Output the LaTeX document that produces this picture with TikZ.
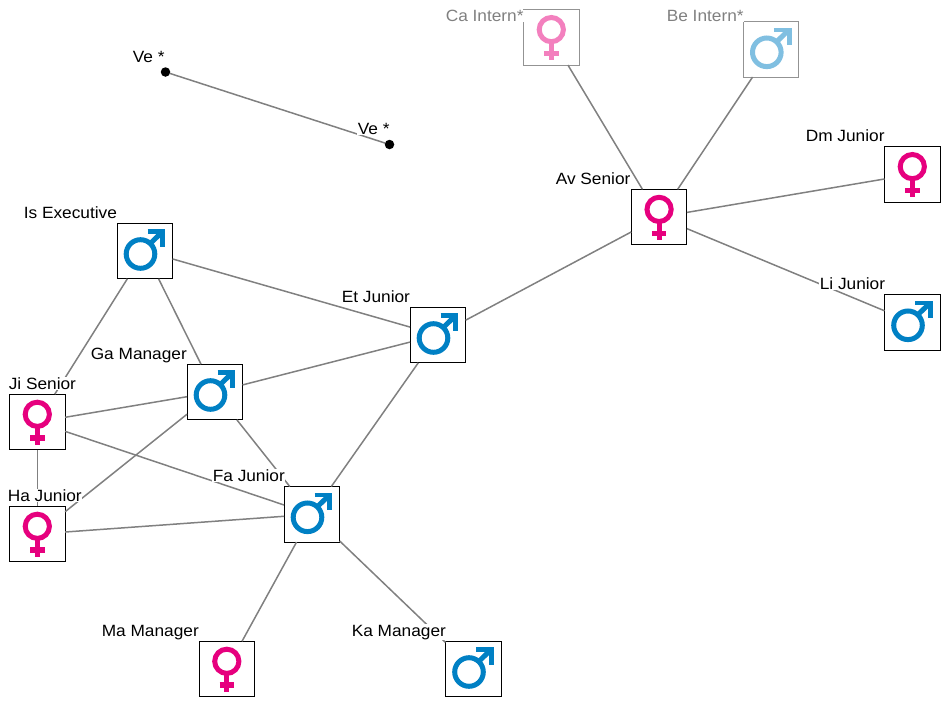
\documentclass[tikz,border=0pt]{standalone}
\usepackage{fontspec}
\setmainfont[FakeStretch=1.06]{Liberation Sans}
\definecolor{pinkc}{HTML}{E6007E}
\definecolor{bluec}{HTML}{0080C4}
\definecolor{pinkf}{HTML}{F380BE}
\definecolor{bluef}{HTML}{80BFE1}
\definecolor{edgec}{HTML}{808080}
\tikzset{
  x=1pt,y=-1pt,
  person/.style={draw=black,line width=1pt,fill=white,minimum size=55.6pt,inner sep=0pt,outer sep=0pt},
  faded/.style={person,draw=edgec!85},
  link/.style={draw=edgec,line width=1.5pt},
  tag/.style={anchor=base west,font=\fontsize{16.3}{19}\selectfont,text=black,inner sep=0.6pt,fill=white},
  tagf/.style={tag,text=edgec},
  dot/.style={circle,fill=black,minimum size=9.5pt,inner sep=0pt,outer sep=0pt},
  pics/femalesym/.style={code={
    \draw[#1,line width=5pt] (0,-7.7) circle[radius=12.1];
    \draw[#1,line width=5pt] (0,5) -- (0,23);
    \draw[#1,line width=5.2pt] (-7.2,16) -- (7.2,16);
  }},
  pics/malesym/.style={code={
    \draw[#1,line width=5pt] (-4.3,3) circle[radius=14.3];
    \draw[#1,line width=5pt] (5,-7) -- (17.5,-19.2);
    \draw[#1,line width=4.8pt,miter limit=10] (2.7,-19.4) -- (18,-19.4) -- (18,-4);
  }}
}
\begin{document}
\begin{tikzpicture}
\useasboundingbox (0,0) rectangle (950,707);
\node[faded] (Ca) at (551.3,37.3) {};
\node[faded] (Be) at (771.1,49.3) {};
\node[person] (Av) at (659.1,217.1) {};
\node[person] (Dm) at (912.3,174.3) {};
\node[person] (Li) at (912.3,322.3) {};
\node[person] (Is) at (144.8,251) {};
\node[person] (Et) at (437.8,335) {};
\node[person] (Ga) at (214.8,392) {};
\node[person] (Ji) at (37.3,422) {};
\node[person] (Ha) at (37.3,534) {};
\node[person] (Fa) at (311.8,514.3) {};
\node[person] (Ma) at (226.8,669) {};
\node[person] (Ka) at (473.3,669) {};
\node[dot] (V1) at (165.5,72) {};
\node[dot] (V2) at (389.5,144.5) {};
\draw[link] (V1) -- (V2);
\draw[link] (Is) -- (Et);
\draw[link] (Is) -- (Ga);
\draw[link] (Is) -- (Ji);
\draw[link] (Ga) -- (Et);
\draw[link] (Ga) -- (Ji);
\draw[link] (Ga) -- (Ha);
\draw[link] (Ga) -- (Fa);
\draw[link] (Ji) -- (Ha);
\draw[link] (Ji) -- (Fa);
\draw[link] (Ha) -- (Fa);
\draw[link] (Fa) -- (Et);
\draw[link] (Fa) -- (Ma);
\draw[link] (Fa) -- (Ka);
\draw[link] (Et) -- (Av);
\draw[link] (Av) -- (Ca);
\draw[link] (Av) -- (Be);
\draw[link] (Av) -- (Dm);
\draw[link] (Av) -- (Li);
\pic at (Ca) {femalesym=pinkf};
\pic at (Be) {malesym=bluef};
\pic at (Av) {femalesym=pinkc};
\pic at (Dm) {femalesym=pinkc};
\pic at (Li) {malesym=bluec};
\pic at (Is) {malesym=bluec};
\pic at (Et) {malesym=bluec};
\pic at (Ga) {malesym=bluec};
\pic at (Ji) {femalesym=pinkc};
\pic at (Ha) {femalesym=pinkc};
\pic at (Fa) {malesym=bluec};
\pic at (Ma) {femalesym=pinkc};
\pic at (Ka) {malesym=bluec};
\node[tagf] (lCa) at (445,21.5) {Ca Intern*};
\node[tagf] (lBe) at (666,21.5) {Be Intern*};
\node[tag] (lAv) at (555,184) {Av Senior};
\node[tag] (lDm) at (805,141.5) {Dm Junior};
\node[tag] (lLi) at (819,289.5) {Li Junior};
\node[tag] (lIs) at (23,218) {Is Executive};
\node[tag] (lEt) at (341,302) {Et Junior};
\node[tag] (lGa) at (90,359) {Ga Manager};
\node[tag] (lJi) at (8,389) {Ji Senior};
\node[tag] (lHa) at (7,501) {Ha Junior};
\node[tag] (lFa) at (212,481) {Fa Junior};
\node[tag] (lMa) at (101,636) {Ma Manager};
\node[tag] (lKa) at (351,636) {Ka Manager};
\node[tag] (lV1) at (132,62) {Ve *};
\node[tag] (lV2) at (357,134) {Ve *};
\end{tikzpicture}
\end{document}
